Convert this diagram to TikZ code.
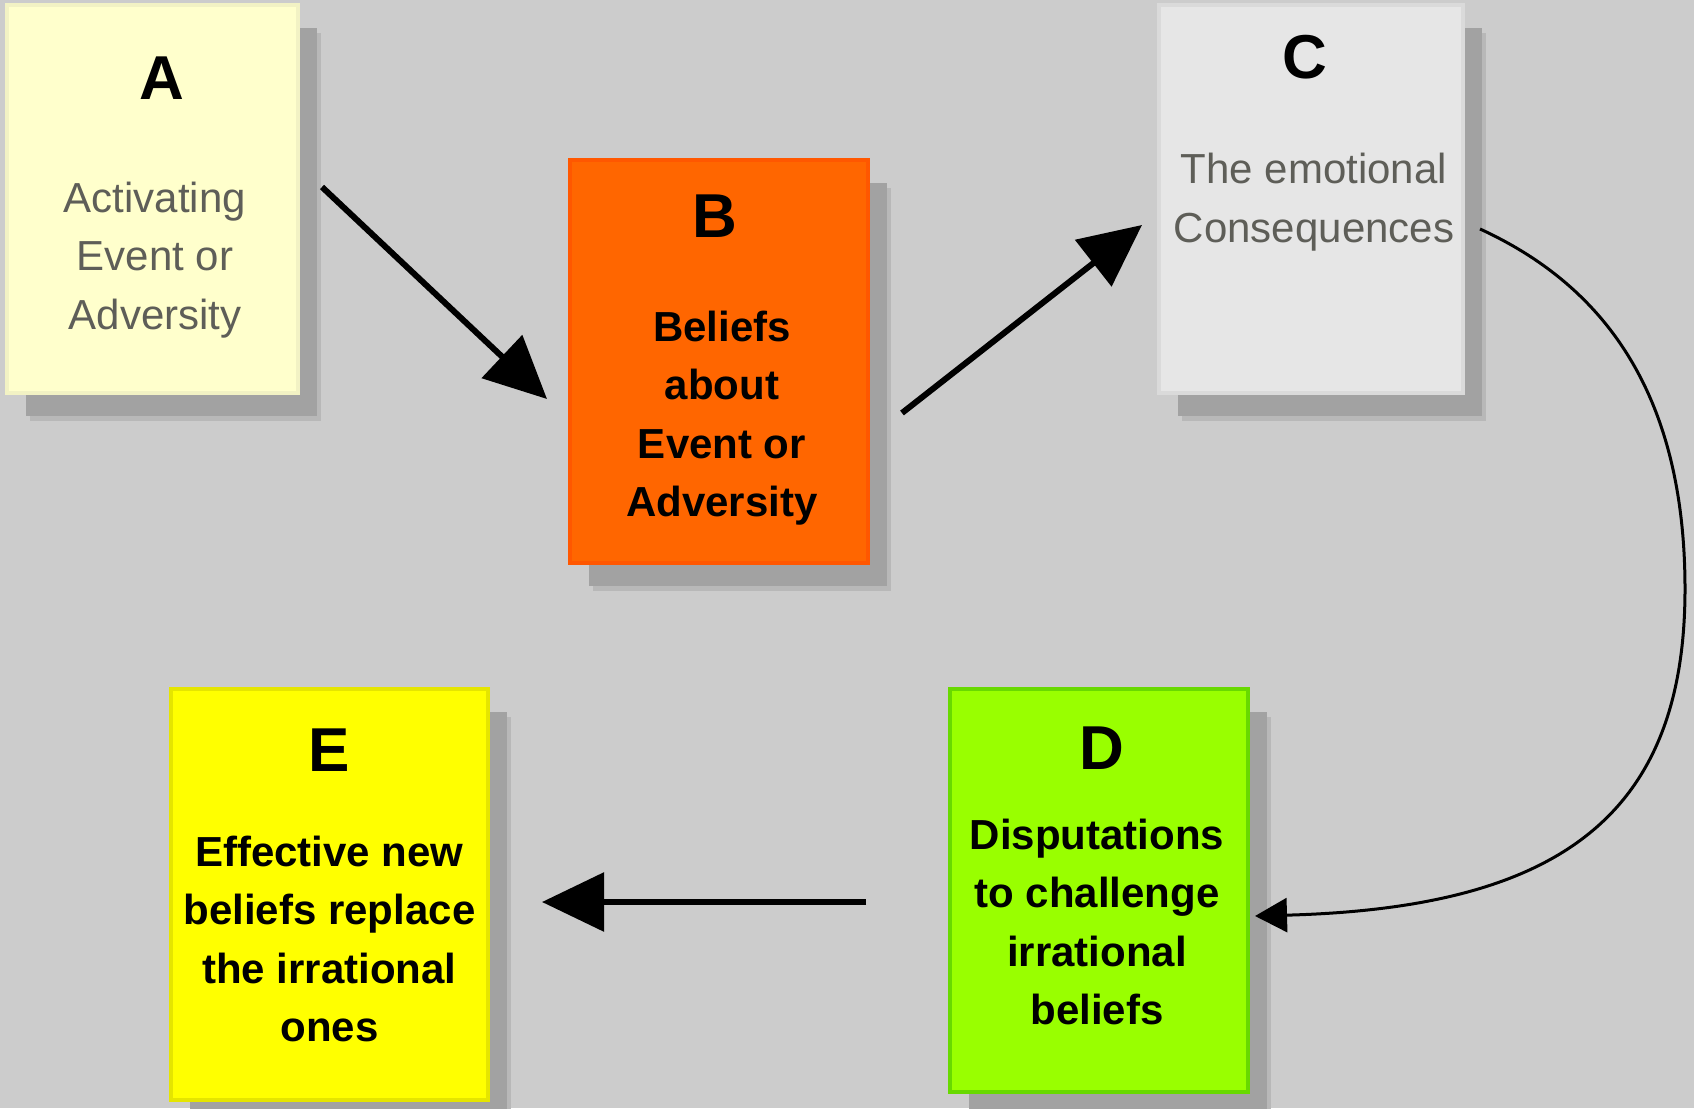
\documentclass[tikz,border=0pt]{standalone}
\usepackage{fontspec}
\setmainfont{Liberation Sans}
\usetikzlibrary{arrows.meta, positioning, shadows}

\definecolor{bg}{HTML}{CCCCCC}
\definecolor{shade}{HTML}{A2A2A2}
\definecolor{haze}{HTML}{B8B8B8}
\definecolor{paleA}{HTML}{FFFFCC}
\definecolor{orangeB}{HTML}{FF6600}
\definecolor{greyC}{HTML}{E6E6E6}
\definecolor{limeD}{HTML}{99FF00}
\definecolor{yellowE}{HTML}{FFFF00}
\definecolor{quiet}{HTML}{5E5E58}

\begin{document}
\begin{tikzpicture}[x=1pt, y=-1pt,
  card/.style={rectangle, inner sep=0pt, line width=4pt,
    general shadow={shadow xshift=23pt, shadow yshift=-28pt, fill=haze},
    general shadow={shadow xshift=19pt, shadow yshift=-23pt, fill=shade}},
  letter/.style={font=\fontsize{62}{62}\selectfont\bfseries},
  note/.style={align=center, font=\fontsize{42}{58.5}\selectfont},
  bigarrow/.style={line width=6pt, -{Triangle[length=62pt, width=58pt]}},
  curvearrow/.style={line width=3pt, -{Triangle[length=32pt, width=34pt]}}
]
\useasboundingbox (0,0) rectangle (1694,1108);
\fill[bg] (0,0) rectangle (1694,1108);

% the five cards
\node[card, fill=paleA, draw=paleA!90!gray, minimum width=291pt, minimum height=388pt] (A) at (152.5,199) {};
\node[card, fill=orangeB, draw=orangeB!85!red, minimum width=298pt, minimum height=403pt] (B) at (719,361.5) {};
\node[card, fill=greyC, draw=greyC!95!black, minimum width=304pt, minimum height=388pt] (C) at (1311,199) {};
\node[card, fill=limeD, draw=limeD!80!green!85!black, minimum width=298pt, minimum height=403pt] (D) at (1099,890.5) {};
\node[card, fill=yellowE, draw=yellowE!90!black, minimum width=317pt, minimum height=411pt] (E) at (329.5,894.5) {};

% titles
\node[letter] (Aletter) at ([xshift=9pt, yshift=-75pt]A.north) {A};
\node[letter] (Bletter) at ([xshift=-4pt, yshift=-58pt]B.north) {B};
\node[letter] (Cletter) at ([xshift=-6pt, yshift=-54pt]C.north) {C};
\node[letter] (Dletter) at ([xshift=3pt, yshift=-61pt]D.north) {D};
\node[letter] (Eletter) at ([yshift=-63pt]E.north) {E};

% texts
\node[note, text=quiet] (Atext) at ([xshift=2.5pt, yshift=-61pt]A.center) {Activating\\Event or\\Adversity};
\node[note, font=\fontsize{42}{58.5}\selectfont\bfseries] (Btext) at ([xshift=3pt, yshift=-56.5pt]B.center) {Beliefs\\about\\Event or\\Adversity};
\node[note, text=quiet] (Ctext) at ([xshift=3pt, yshift=-3pt]C.center) {The emotional\\Consequences};
\node[note, font=\fontsize{42}{58.5}\selectfont\bfseries] (Dtext) at ([xshift=-2pt, yshift=-31.5pt]D.center) {Disputations\\to challenge\\irrational\\beliefs};
\node[note, font=\fontsize{42}{58.5}\selectfont\bfseries] (Etext) at ([yshift=-44.5pt]E.center) {Effective new\\beliefs replace\\the irrational\\ones};

% connectors
\coordinate (bend) at (1685,589);
\draw[bigarrow] ([xshift=22pt, yshift=12pt]A.east) -- ([xshift=-21pt, yshift=-37.5pt]B.west);
\draw[bigarrow] ([xshift=32pt, yshift=-51.5pt]B.east) -- ([xshift=-15pt, yshift=-26pt]C.west);
\draw[curvearrow] ([xshift=15pt, yshift=-30pt]C.east) .. controls +(120,55) and +(0,-200) .. (bend)
  .. controls +(0,230) and +(300,-8) .. ([xshift=5pt, yshift=-25.5pt]D.east);
\draw[bigarrow] ([xshift=-82pt, yshift=-11.5pt]D.west) -- ([xshift=52pt, yshift=-7.5pt]E.east);
\end{tikzpicture}
\end{document}
